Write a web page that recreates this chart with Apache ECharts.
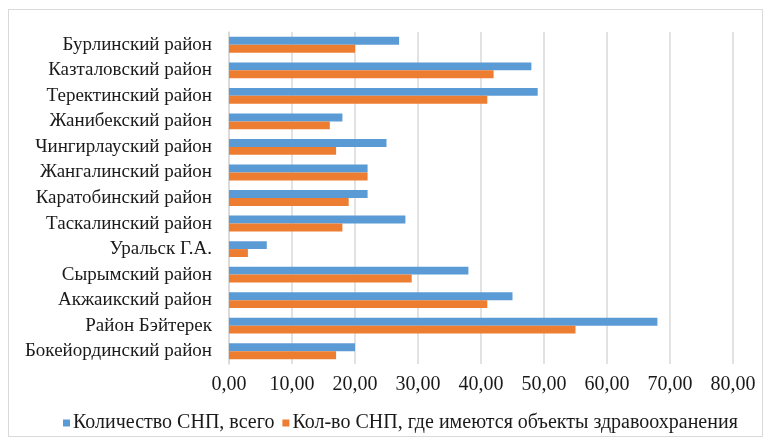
<!DOCTYPE html>
<html>
<head>
<meta charset="utf-8">
<script src="https://cdn.jsdelivr.net/npm/echarts@6/dist/echarts.min.js"></script>
<style>
    html, body { margin: 0; padding: 0; background: #fff; }
    #chart { width: 772px; height: 442px; }
    #frame {
        position: absolute; left: 8px; top: 9px; width: 755px; height: 428px;
        border: 1px solid #d9d9d9; box-sizing: border-box; pointer-events: none;
    }
</style>
</head>
<body>
<div id="chart"></div>
<div id="frame"></div>
<script>
    // районы сверху вниз
    var districts = [
        "Бурлинский район", "Казталовский район", "Теректинский район",
        "Жанибекский район", "Чингирлауский район", "Жангалинский район",
        "Каратобинский район", "Таскалинский район", "Уральск Г.А.",
        "Сырымский район", "Акжаикский район", "Район Бэйтерек",
        "Бокейординский район"
    ];
    var totalSNP = [27, 48, 49, 18, 25, 22, 22, 28, 6, 38, 45, 68, 20];
    var healthSNP = [20, 42, 41, 16, 17, 22, 19, 18, 3, 29, 41, 55, 17];
    var seriesNames = ["Количество СНП, всего", "Кол-во СНП, где имеются объекты здравоохранения"];

    var myChart = echarts.init(document.getElementById("chart"));
    var font = "Liberation Serif";
    var options = {
        animation: false,
        textStyle: { fontFamily: font },
        legend: {
            bottom: 4,
            left: 58,
            itemWidth: 7,
            itemHeight: 7,
            itemGap: 8,
            icon: 'rect',
            textStyle: { fontFamily: font, fontSize: 20, color: '#1a1a1a', padding: [0, 0, 0, -2] },
            data: seriesNames
        },
        grid: { left: 229, right: 39, top: 32, bottom: 78 },
        xAxis: {
            type: 'value',
            min: 0,
            max: 80,
            interval: 10,
            axisLine: { show: false },
            axisTick: { show: false },
            splitLine: { lineStyle: { color: '#d9d9d9', width: 1.5 } },
            axisLabel: {
                margin: 11,
                fontFamily: font,
                fontSize: 20,
                color: '#1a1a1a',
                formatter: function (v) { return v.toFixed(2).replace('.', ','); }
            }
        },
        yAxis: {
            type: 'category',
            inverse: true,
            data: districts,
            axisLine: { show: true, lineStyle: { color: '#d9d9d9', width: 1.5 } },
            axisTick: { show: false },
            axisLabel: { margin: 17, fontFamily: font, fontSize: 19, color: '#1a1a1a' }
        },
        series: [
            {
                name: seriesNames[0],
                type: 'bar',
                data: totalSNP,
                barGap: '0%',
                barCategoryGap: '38%',
                itemStyle: { color: '#5B9BD5' }
            },
            {
                name: seriesNames[1],
                type: 'bar',
                data: healthSNP,
                itemStyle: { color: '#ED7D31' }
            }
        ]
    };
    myChart.setOption(options);
</script>
</body>
</html>
